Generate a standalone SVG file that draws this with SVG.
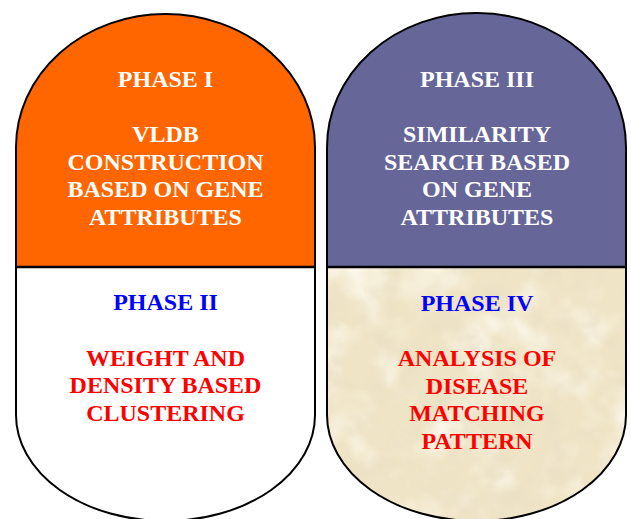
<svg xmlns="http://www.w3.org/2000/svg" width="631" height="519" viewBox="0 0 631 519">
  <defs>
    <style>
      .outline { fill: none; stroke: #000; stroke-width: 2; }
      .divider { stroke: #000; stroke-width: 2.5; }
      .label { font-family: "Liberation Serif", "Times New Roman", serif; font-weight: bold; font-size: 24px; text-anchor: middle; }
      .white { fill: #fff; }
      .blue { fill: #0000ff; }
      .red { fill: #ff0000; }
    </style>
    <!-- capsule outlines: elliptical top cap, straight sides, elliptical bottom cap -->
    <path id="capL" d="M16,147 A149.5,133 0 0 1 315,147 L315,415 A149.5,106 0 0 1 16,415 Z"/>
    <path id="capR" d="M327,147 A149.5,134 0 0 1 626,147 L626,415 A149.5,106 0 0 1 327,415 Z"/>
    <clipPath id="clipL"><use href="#capL"/></clipPath>
    <clipPath id="clipR"><use href="#capR"/></clipPath>
    <!-- mottled parchment texture: darker and lighter blotches over a beige base -->
    <filter id="parchDark" x="0" y="0" width="100%" height="100%" filterUnits="userSpaceOnUse">
      <feTurbulence type="fractalNoise" baseFrequency="0.035" numOctaves="4" seed="7" result="noise"/>
      <feColorMatrix in="noise" type="matrix"
        values="0 0 0 0 0.82
                0 0 0 0 0.74
                0 0 0 0 0.56
                2.2 0 0 0 -1.0" result="dark"/>
      <feComposite in="dark" in2="SourceGraphic" operator="in"/>
    </filter>
    <filter id="parchLight" x="0" y="0" width="100%" height="100%" filterUnits="userSpaceOnUse">
      <feTurbulence type="fractalNoise" baseFrequency="0.02" numOctaves="3" seed="21" result="noise"/>
      <feColorMatrix in="noise" type="matrix"
        values="0 0 0 0 0.98
                0 0 0 0 0.95
                0 0 0 0 0.86
                0 2.4 0 0 -1.1" result="light"/>
      <feComposite in="light" in2="SourceGraphic" operator="in"/>
    </filter>
  </defs>

  <rect width="631" height="519" fill="#fff"/>

  <!-- left capsule: phases I and II -->
  <g id="capsule-left">
    <g clip-path="url(#clipL)">
      <rect x="0" y="0" width="322" height="267" fill="#ff6600"/>
      <rect x="0" y="267" width="322" height="260" fill="#fff"/>
    </g>
    <line class="divider" x1="16" y1="267" x2="315" y2="267"/>
    <use href="#capL" class="outline"/>
  </g>

  <!-- right capsule: phases III and IV -->
  <g id="capsule-right">
    <g clip-path="url(#clipR)">
      <rect x="320" y="0" width="311" height="267" fill="#666699"/>
      <rect x="320" y="267" width="311" height="260" fill="#efe4c5"/>
      <rect x="320" y="267" width="311" height="260" fill="#efe4c5" filter="url(#parchLight)"/>
      <rect x="320" y="267" width="311" height="260" fill="#efe4c5" filter="url(#parchDark)"/>
    </g>
    <line class="divider" x1="327" y1="267" x2="626" y2="267"/>
    <use href="#capR" class="outline"/>
  </g>

  <g id="phase-1">
    <text class="label white" x="165.5" y="86.5">PHASE I</text>
    <text class="label white" x="165.5" y="141.5">VLDB</text>
    <text class="label white" x="165.5" y="169.5">CONSTRUCTION</text>
    <text class="label white" x="165.5" y="197">BASED ON GENE</text>
    <text class="label white" x="165.5" y="224.5">ATTRIBUTES</text>
  </g>

  <g id="phase-2">
    <text class="label blue" x="165.5" y="309.5">PHASE II</text>
    <text class="label red" x="165.5" y="365.5">WEIGHT AND</text>
    <text class="label red" x="165.5" y="393">DENSITY BASED</text>
    <text class="label red" x="165.5" y="420.5">CLUSTERING</text>
  </g>

  <g id="phase-3">
    <text class="label white" x="477" y="86.5">PHASE III</text>
    <text class="label white" x="477" y="141.5">SIMILARITY</text>
    <text class="label white" x="477" y="169.5">SEARCH BASED</text>
    <text class="label white" x="477" y="197">ON GENE</text>
    <text class="label white" x="477" y="224.5">ATTRIBUTES</text>
  </g>

  <g id="phase-4">
    <text class="label blue" x="477" y="310.5">PHASE IV</text>
    <text class="label red" x="477" y="366">ANALYSIS OF</text>
    <text class="label red" x="477" y="393.5">DISEASE</text>
    <text class="label red" x="477" y="421">MATCHING</text>
    <text class="label red" x="477" y="448.5">PATTERN</text>
  </g>
</svg>
